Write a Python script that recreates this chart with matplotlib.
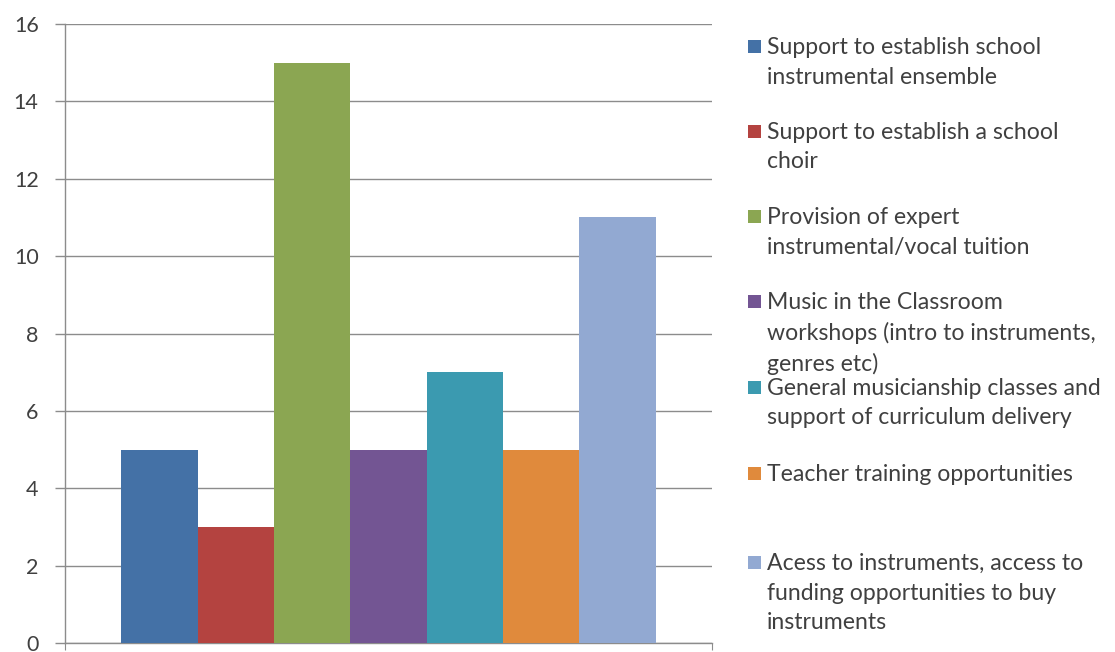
import matplotlib
matplotlib.use("Agg")
import matplotlib.pyplot as plt
from matplotlib.patches import Rectangle
import numpy as np

categories = [
    "Support to establish school\ninstrumental ensemble",
    "Support to establish a school\nchoir",
    "Provision of expert\ninstrumental/vocal tuition",
    "Music in the Classroom\nworkshops (intro to instruments,\ngenres etc)",
    "General musicianship classes and\nsupport of curriculum delivery",
    "Teacher training opportunities",
    "Acess to instruments, access to\nfunding opportunities to buy\ninstruments",
]
values = [5, 3, 15, 5, 7, 5, 11]
colors = ["#4471A6", "#B44340", "#8BA652", "#735593", "#3B9AB0", "#E08A3C", "#92A9D2"]
yticks = [0, 2, 4, 6, 8, 10, 12, 14, 16]

W, H = 1115, 652
plt.rcParams['font.family'] = ['Lato', 'DejaVu Sans']
fig = plt.figure(figsize=(W / 100, H / 100), dpi=100)
fig.patch.set_facecolor("white")

ax = fig.add_axes([65 / W, (H - 643) / H, (712 - 65) / W, (643 - 24) / H])
x = np.arange(len(values))
ax.bar(x, values, width=1.0, color=colors, edgecolor="none", zorder=3)
pad = 0.74
ax.set_xlim(-0.5 - pad, len(values) - 0.5 + pad)
ax.set_ylim(0, 16)
ax.set_yticks(yticks)
ax.set_yticklabels([str(t) for t in yticks])
ax.yaxis.grid(True, color="#8C8C8C", linewidth=1.0, zorder=0)
ax.set_xticks([-0.5 - pad, len(values) - 0.5 + pad])
ax.set_xticklabels([])
ax.tick_params(axis="x", length=5, color="#8C8C8C", direction="out")
ax.tick_params(axis="y", length=7, width=1, color="#8C8C8C", pad=12,
               labelsize=15.5, labelcolor="#404040")
for s in ["top", "right"]:
    ax.spines[s].set_visible(False)
for s in ["left", "bottom"]:
    ax.spines[s].set_color("#8C8C8C")
    ax.spines[s].set_linewidth(1.0)

# legend entries (Excel-style, fixed pitch)
first_line_y = [46, 131, 216, 301, 387, 473, 562]
for lab, col, yc in zip(categories, colors, first_line_y):
    fig.add_artist(Rectangle((748 / W, (H - yc - 7) / H), 13 / W, 13 / H,
                             transform=fig.transFigure, facecolor=col,
                             edgecolor="none"))
    fig.text(767 / W, (H - yc + 9) / H, lab, ha="left", va="top",
             fontsize=16.6, color="#404040", linespacing=1.5)

fig.savefig("out.png", dpi=100, facecolor="white")
